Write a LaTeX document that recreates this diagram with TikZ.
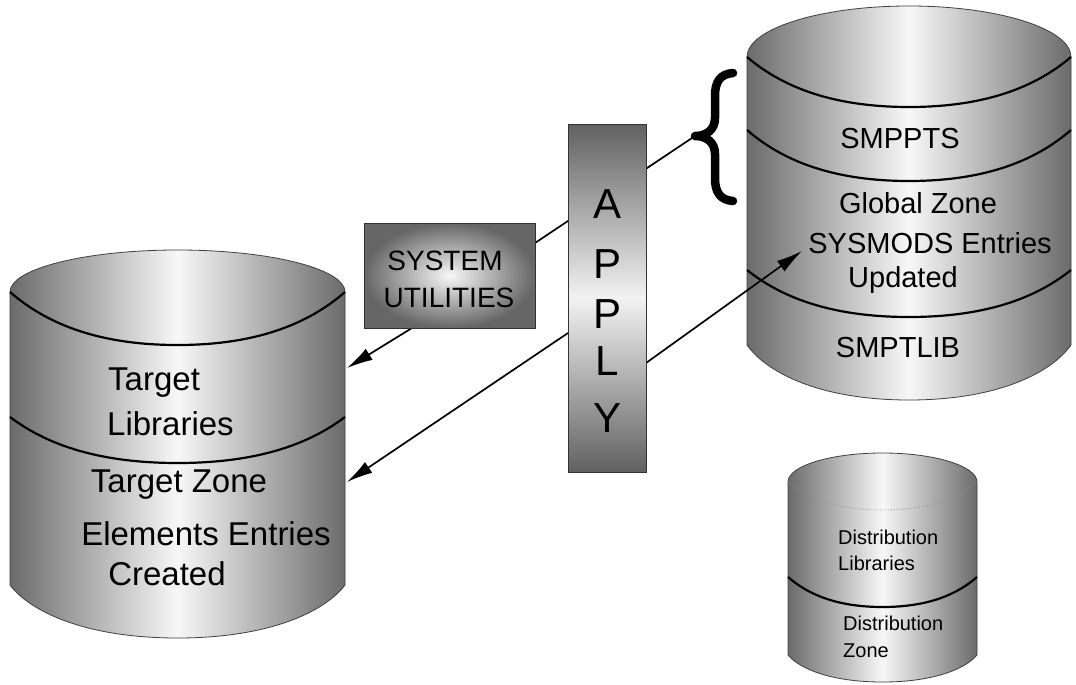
\documentclass[tikz,border=0pt]{standalone}
\usepackage{fontspec}
\setmainfont{Liberation Sans}
\usetikzlibrary{arrows.meta,calc}

% Cylinder body: #1 left x, #2 right x, #3 top of lid, #4 top of sides,
% #5 foot of sides, #6 lowest point of the base
\newcommand\cylbody[6]{%
  \pgfmathsetmacro\cylXc{(#1+#2)/2}%
  \pgfmathsetmacro\cylHw{(#2-#1)/2}%
  \pgfmathsetmacro\cylXa{\cylXc-0.552*\cylHw}%
  \pgfmathsetmacro\cylXb{\cylXc+0.552*\cylHw}%
  \pgfmathsetmacro\cylYa{#4-0.552*(#4-#3)}%
  \pgfmathsetmacro\cylYb{#5+0.5*(#6-#5)}%
  \pgfmathsetmacro\cylXl{#1+0.12*\cylHw}%
  \pgfmathsetmacro\cylXr{#2-0.12*\cylHw}%
  \shade[cylfill, outline] (#1,#4) .. controls (#1,\cylYa) and (\cylXa,#3) .. (\cylXc,#3)
    .. controls (\cylXb,#3) and (#2,\cylYa) .. (#2,#4) -- (#2,#5)
    .. controls (\cylXr,\cylYb) and (\cylXb,#6) .. (\cylXc,#6)
    .. controls (\cylXa,#6) and (\cylXl,\cylYb) .. (#1,#5) -- cycle;
}
% Sagging band line across a cylinder: #2 left x, #3 right x, #4 y at sides, #5 lowest y
\newcommand\cylband[5][bandline]{%
  \pgfmathsetmacro\cylBc{(#2+#3)/2}%
  \pgfmathsetmacro\cylBw{(#3-#2)/2}%
  \pgfmathsetmacro\cylBy{#4+0.55*(#5-#4)}%
  \pgfmathsetmacro\cylBa{#2+0.2*\cylBw}%
  \pgfmathsetmacro\cylBb{\cylBc-0.5*\cylBw}%
  \pgfmathsetmacro\cylBd{\cylBc+0.5*\cylBw}%
  \pgfmathsetmacro\cylBe{#3-0.2*\cylBw}%
  \draw[#1] (#2,#4) .. controls (\cylBa,\cylBy) and (\cylBb,#5) .. (\cylBc,#5)
    .. controls (\cylBd,#5) and (\cylBe,\cylBy) .. (#3,#4);
}

\begin{document}
\begin{tikzpicture}[x=1pt,y=-1pt,
  cylfill/.style={left color=black!58, right color=black!58, middle color=black!3},
  outline/.style={draw=black!75, line width=0.8pt},
  bandline/.style={draw=black, line width=2.2pt},
  faintline/.style={draw=black!45, line width=0.8pt, dotted},
  conn/.style={draw=black, line width=1.7pt},
  arr/.style={conn, -{Latex[length=26pt,width=13pt]}},
  bigtxt/.style={font=\fontsize{33}{36}\selectfont, inner sep=0pt},
  midtxt/.style={font=\fontsize{29}{32}\selectfont, inner sep=0pt},
  boxtxt/.style={font=\fontsize{28}{31}\selectfont, inner sep=0pt},
  smalltxt/.style={font=\fontsize{20}{22}\selectfont, inner sep=0pt},
  applyletter/.style={font=\fontsize{42}{44}\selectfont, inner sep=0pt, anchor=base},
  utilbox/.style={draw=black!80, line width=0.8pt, inner color=black!3, outer color=black!60,
    minimum width=171pt, minimum height=105pt, inner sep=0pt},
  applybox/.style={draw=black!80, line width=0.8pt, top color=black!62, bottom color=black!62,
    middle color=black!5, minimum width=78pt, minimum height=348pt, inner sep=0pt},
  bracestroke/.style={draw=black, line width=8.5pt, line cap=round, line join=round}
]
\useasboundingbox[fill=white] (0,0) rectangle (1076,685);

% ---- target cylinder (left) ----
\cylbody{10}{345}{250}{292}{585}{638}
\cylband{10}{345}{292}{345}
\cylband{10}{345}{417}{463}
\node[bigtxt, anchor=base west] (tgt1) at (108,390) {Target};
\node[bigtxt, anchor=base west] (tgt2) at (107,435) {Libraries};
\node[bigtxt, anchor=base] (tgt3) at (179,492) {Target Zone};
\node[bigtxt, anchor=base] (tgt4) at (206,545) {Elements Entries};
\node[bigtxt, anchor=base] (tgt5) at (167,585) {Created};

% ---- global cylinder (right) ----
\cylbody{747}{1071}{6}{57}{345}{400}
\cylband{747}{1071}{57}{107}
\cylband{747}{1071}{130}{181}
\cylband{747}{1071}{270}{317}
\node[midtxt, anchor=base] (glb1) at (900,148) {SMPPTS};
\node[midtxt, anchor=base] (glb2) at (918,213) {Global Zone};
\node[midtxt, anchor=base] (glb3) at (930,253) {SYSMODS Entries};
\node[midtxt, anchor=base] (glb4) at (903,287) {Updated};
\node[midtxt, anchor=base] (glb5) at (898,357) {SMPTLIB};

% ---- distribution cylinder (small) ----
\cylbody{788}{977}{453}{482}{655}{682}
\cylband[faintline]{788}{977}{482}{510}
\cylband{788}{977}{577}{607}
\node[smalltxt, anchor=base west] (dst1) at (838,544) {Distribution};
\node[smalltxt, anchor=base west] (dst2) at (838,570) {Libraries};
\node[smalltxt, anchor=base west] (dst3) at (843,630) {Distribution};
\node[smalltxt, anchor=base west] (dst4) at (843,657) {Zone};

% ---- brace marking the SMPPTS part ----
\coordinate (bracetip) at (695,136);
\draw[bracestroke] (733,73) .. controls (720,74) and (715,82) .. (715,96)
  -- (715,118) .. controls (715,130) and (706,136) .. (bracetip)
  .. controls (706,136) and (715,142) .. (715,154)
  -- (715,178) .. controls (715,192) and (720,200) .. (733,201);

% ---- connection points ----
\coordinate (suright) at (535,243);
\coordinate (sulow) at (412,328);
\coordinate (applyleft) at (568,333);
\coordinate (applyright) at (646,363);
\coordinate (libin) at (347,368);
\coordinate (zonein) at (347,482);
\coordinate (sysin) at (802,251);

% ---- connectors ----
\draw[conn] (suright) -- (bracetip);
\draw[arr] (sulow) -- (libin);
\draw[arr] (applyleft) -- (zonein);
\draw[arr] (applyright) -- (sysin);

% ---- boxes ----
\node[utilbox] (sysutil) at (449.5,275.5) {};
\node[boxtxt, anchor=base] (su1) at (445,270) {SYSTEM};
\node[boxtxt, anchor=base] (su2) at (449,307) {UTILITIES};

\node[applybox] (apply) at (607,298) {};
\node[applyletter] (ap1) at (607,218) {A};
\node[applyletter] (ap2) at (607,278) {P};
\node[applyletter] (ap3) at (607,328) {P};
\node[applyletter] (ap4) at (607,375) {L};
\node[applyletter] (ap5) at (607,432) {Y};
\end{tikzpicture}
\end{document}
